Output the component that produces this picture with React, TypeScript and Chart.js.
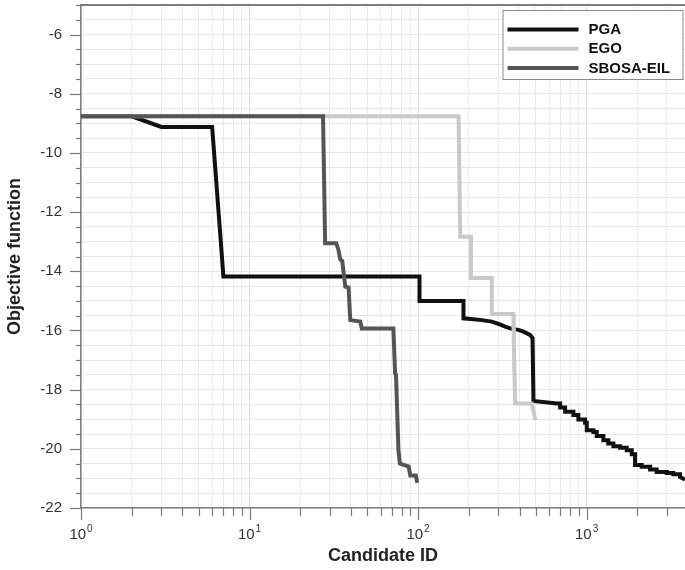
import React, { useEffect, useRef } from 'react';
import { Chart, registerables } from 'chart.js';

Chart.register(...registerables);

// ---------- data ----------
const seriesLabels = ['PGA', 'EGO', 'SBOSA-EIL'];
const seriesColors = ['#111111', '#c9c9c9', '#555555'];

const pgaX = [1, 2, 3, 6, 7, 102, 102, 186, 186, 213, 239, 274, 300, 329, 352, 394, 422, 462, 478, 484,
  665, 697, 697, 746, 746, 835, 835, 894, 894, 980, 980, 1003, 1003, 1097, 1097, 1149, 1149, 1258, 1258,
  1346, 1346, 1443, 1443, 1581, 1581, 1731, 1731, 1854, 1854, 1940, 1940, 2125, 2125, 2383, 2383, 2608,
  2608, 2992, 2992, 3272, 3272, 3586, 3586, 3838];
const pgaY = [-8.76, -8.76, -9.12, -9.12, -14.18, -14.18, -15.0, -15.0, -15.59, -15.62, -15.65, -15.7, -15.78,
  -15.87, -15.93, -15.98, -16.04, -16.15, -16.25, -18.38,
  -18.47, -18.47, -18.6, -18.6, -18.75, -18.75, -18.86, -18.86, -19.01, -19.01, -19.12, -19.12, -19.37,
  -19.37, -19.43, -19.43, -19.57, -19.57, -19.71, -19.71, -19.82, -19.82, -19.91, -19.91, -19.96, -19.96,
  -20.05, -20.05, -20.18, -20.18, -20.55, -20.55, -20.61, -20.61, -20.7, -20.7, -20.78, -20.78, -20.82,
  -20.82, -20.86, -20.86, -20.95, -21.04];

const egoX = [1, 174, 178, 206, 206, 274, 274, 368, 370, 377, 473, 498];
const egoY = [-8.76, -8.76, -12.83, -12.83, -14.23, -14.23, -15.44, -15.44, -16.5, -18.47, -18.47, -19.03];

const sbosaX = [1, 27.3, 28.1, 32.7, 33.7, 34.5, 35.5, 37, 38.7, 39.6, 45.4, 46.4, 71.4, 73.1, 74, 76.5, 78,
  88, 90, 97, 99];
const sbosaY = [-8.76, -8.76, -13.05, -13.05, -13.28, -13.59, -13.65, -14.52, -14.55, -15.65, -15.7, -15.93,
  -15.93, -17.45, -17.5, -20.05, -20.5, -20.6, -20.9, -20.9, -21.15];

const xDecades = [0, 1, 2, 3];
const xMin = 1;
const xMax = 3838;
const yMin = -22;
const yMax = -5;
const yLabelValues = [-22, -20, -18, -16, -14, -12, -10, -8, -6];
const yMinorStep = 0.5;
const xAxisTitle = 'Candidate ID';
const yAxisTitle = 'Objective function';

const FONT = '"Liberation Sans", Arial, Helvetica, sans-serif';

function toPoints(xs: number[], ys: number[]) {
  return xs.map((x, i) => ({ x, y: ys[i] }));
}

function isDecade(v: number) {
  const l = Math.log10(v);
  return Math.abs(l - Math.round(l)) < 1e-9;
}

const decorPlugin = {
  id: 'decor',
  afterDraw(chart: any) {
    const { ctx, chartArea: ca, scales } = chart;
    const xs = scales.x;
    const ys = scales.y;
    ctx.save();
    // top frame
    ctx.strokeStyle = '#555555';
    ctx.lineWidth = 1.5;
    ctx.beginPath();
    ctx.moveTo(ca.left, ca.top);
    ctx.lineTo(ca.right, ca.top);
    ctx.stroke();

    // y tick marks
    ctx.strokeStyle = '#7a7a7a';
    ctx.lineWidth = 1.2;
    ys.ticks.forEach((t: any) => {
      const py = Math.round(ys.getPixelForValue(t.value)) + 0.5;
      const len = yLabelValues.includes(t.value) ? 11 : 5;
      ctx.beginPath();
      ctx.moveTo(ca.left - len, py);
      ctx.lineTo(ca.left, py);
      ctx.stroke();
    });
    // x tick marks
    xs.ticks.forEach((t: any) => {
      const px = Math.round(xs.getPixelForValue(t.value)) + 0.5;
      const len = isDecade(t.value) ? 12 : 8;
      ctx.beginPath();
      ctx.moveTo(px, ca.bottom);
      ctx.lineTo(px, ca.bottom + len);
      ctx.stroke();
    });

    // x labels 10^n
    ctx.fillStyle = '#333333';
    ctx.textBaseline = 'alphabetic';
    ctx.textAlign = 'left';
    xDecades.forEach((d) => {
      const v = Math.pow(10, d);
      if (v > xMax) return;
      const px = xs.getPixelForValue(v);
      ctx.font = `15px ${FONT}`;
      const w1 = ctx.measureText('10').width;
      ctx.font = `10px ${FONT}`;
      const w2 = ctx.measureText(String(d)).width;
      const start = px - (w1 + 1 + w2) / 2;
      ctx.font = `15px ${FONT}`;
      ctx.fillText('10', start, ca.bottom + 30.5);
      ctx.font = `10px ${FONT}`;
      ctx.fillText(String(d), start + w1 + 1, ca.bottom + 23.5);
    });

    // legend
    const boxW = 180;
    const boxH = 69;
    const bx = ca.right - boxW - 2.5;
    const by = ca.top + 5;
    ctx.fillStyle = '#ffffff';
    ctx.fillRect(bx, by, boxW, boxH);
    ctx.strokeStyle = '#8a8a8a';
    ctx.lineWidth = 1;
    ctx.strokeRect(bx + 0.5, by + 0.5, boxW, boxH);
    ctx.font = `bold 15px ${FONT}`;
    ctx.textBaseline = 'middle';
    seriesLabels.forEach((lab, i) => {
      const ry = by + 19.5 + i * 19.2;
      ctx.strokeStyle = seriesColors[i];
      ctx.lineWidth = 4;
      ctx.beginPath();
      ctx.moveTo(bx + 5, ry);
      ctx.lineTo(bx + 76, ry);
      ctx.stroke();
      ctx.fillStyle = '#111111';
      ctx.fillText(lab, bx + 86, ry + 0.5);
    });
    ctx.restore();
  },
};

export default function App() {
  const ref = useRef<HTMLCanvasElement | null>(null);

  useEffect(() => {
    if (!ref.current) return;
    const xTickValues: number[] = [];
    xDecades.forEach((d) => {
      for (let k = 1; k <= 9; k++) {
        const v = k * Math.pow(10, d);
        if (v <= xMax) xTickValues.push(v);
      }
    });
    const yTickValues: number[] = [];
    for (let v = yMin; v <= yMax + 1e-9; v += yMinorStep) yTickValues.push(v);

    const datasets = [
      { label: seriesLabels[0], data: toPoints(pgaX, pgaY), borderColor: seriesColors[0], order: 3 },
      { label: seriesLabels[1], data: toPoints(egoX, egoY), borderColor: seriesColors[1], order: 2 },
      { label: seriesLabels[2], data: toPoints(sbosaX, sbosaY), borderColor: seriesColors[2], order: 1 },
    ].map((d) => ({
      ...d,
      borderWidth: 4,
      pointRadius: 0,
      pointHoverRadius: 0,
      tension: 0,
      fill: false,
      borderJoinStyle: 'miter' as const,
    }));

    const chart = new Chart(ref.current, {
      type: 'line',
      data: { datasets },
      plugins: [decorPlugin],
      options: {
        animation: false,
        responsive: false,
        maintainAspectRatio: false,
        events: [],
        layout: { padding: { top: 5, right: 0, left: 0, bottom: 0 } },
        plugins: {
          legend: { display: false },
          tooltip: { enabled: false },
        },
        scales: {
          x: {
            type: 'logarithmic',
            min: xMin,
            max: xMax,
            afterBuildTicks: (s: any) => {
              s.ticks = xTickValues.map((v) => ({ value: v, major: isDecade(v) }));
            },
            afterFit: (s: any) => {
              s.height = 62;
              s.paddingLeft = 0;
              s.paddingRight = 0;
            },
            ticks: { display: false },
            grid: {
              drawTicks: false,
              lineWidth: 1,
              color: (c: any) => (c.tick && isDecade(c.tick.value) ? '#dcdcdc' : '#ebebeb'),
            },
            border: { display: true, color: '#808080', width: 1.5 },
            title: {
              display: true,
              text: xAxisTitle,
              color: '#222222',
              font: { family: FONT, size: 18, weight: 'bold' },
              padding: { top: 0, bottom: 3 },
            },
          },
          y: {
            type: 'linear',
            min: yMin,
            max: yMax,
            afterBuildTicks: (s: any) => {
              s.ticks = yTickValues.map((v) => ({ value: v }));
            },
            afterFit: (s: any) => {
              s.width = 81;
              s.paddingTop = 0;
              s.paddingBottom = 0;
            },
            ticks: {
              autoSkip: false,
              padding: 19,
              color: '#333333',
              font: { family: FONT, size: 15 },
              callback: (v: any) => (yLabelValues.includes(Number(v)) ? String(v) : ''),
            },
            grid: {
              drawTicks: false,
              lineWidth: 1,
              color: '#e6e6e6',
            },
            border: { display: true, color: '#808080', width: 1.5 },
            title: {
              display: true,
              text: yAxisTitle,
              color: '#222222',
              font: { family: FONT, size: 18, weight: 'bold' },
              padding: { top: 4, bottom: 0 },
            },
          },
        },
      } as any,
    });
    return () => chart.destroy();
  }, []);

  return (
    <div style={{ position: 'fixed', left: 0, top: 0, width: 685, height: 570, background: '#ffffff' }}>
      <canvas ref={ref} width={685} height={570} style={{ display: 'block', width: 685, height: 570 }} />
    </div>
  );
}
